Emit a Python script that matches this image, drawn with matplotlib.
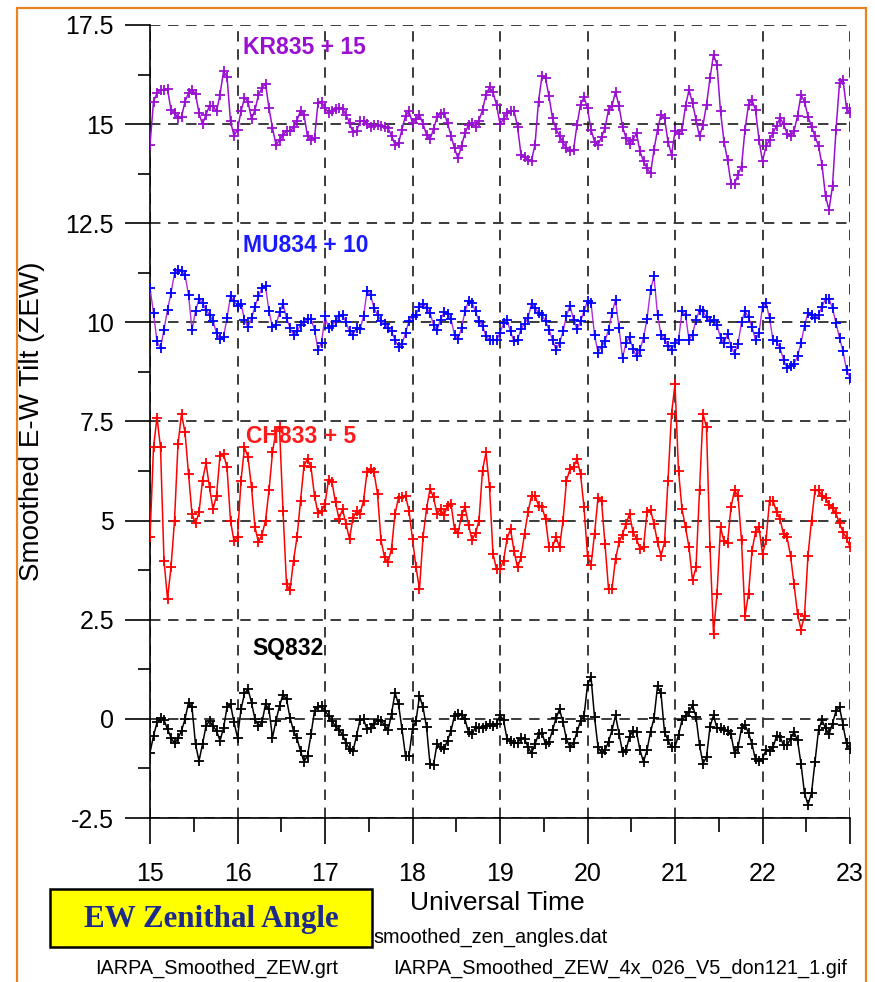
import matplotlib
matplotlib.use('Agg')
import matplotlib.pyplot as plt
import numpy as np
from matplotlib.patches import Rectangle
from matplotlib.ticker import MultipleLocator, FuncFormatter
from matplotlib import font_manager as fm

plt.rcParams['lines.scale_dashes'] = False
plt.rcParams['axes.unicode_minus'] = False

_avail = {f.name for f in fm.fontManager.ttflist}
if 'Liberation Sans Narrow' in _avail:
    NARROW = ['Liberation Sans Narrow', 'DejaVu Sans']
    NSCALE = 1.2
else:
    NARROW = ['Liberation Sans', 'DejaVu Sans']
    NSCALE = 1.0
SANS = ['Liberation Sans', 'DejaVu Sans']
SERIF = ['Liberation Serif', 'DejaVu Serif']

# ---------------- data ----------------
t_start, t_end, n_samples = 15.0, 23.0, 201
series_names = ['KR835 + 15', 'MU834 + 10', 'CH833 + 5', 'SQ832']

KR835 = [
    14.48, 15.57, 15.78, 15.87, 15.87, 15.88, 15.36, 15.29, 15.15, 15.18, 15.57, 15.78, 15.87, 15.76, 15.28, 15.0, 15.24, 15.46, 15.46, 15.32, 15.74, 16.33, 16.2, 15.07, 14.71,
    14.86, 15.32, 15.66, 15.57, 15.13, 15.36, 15.74, 15.91, 16.02, 15.4, 14.9, 14.48, 14.59, 14.73, 14.82, 14.82, 14.92, 15.09, 15.34, 15.24, 14.69, 14.61, 14.65, 15.53, 15.57,
    15.4, 15.29, 15.34, 15.39, 15.4, 15.38, 15.24, 15.03, 14.79, 14.82, 15.07, 15.07, 15.01, 14.94, 14.98, 14.98, 14.96, 14.94, 14.9, 14.71, 14.48, 14.52, 14.86, 15.21, 15.32,
    15.03, 15.13, 15.23, 15.01, 14.73, 14.62, 14.87, 15.18, 15.26, 15.28, 15.03, 14.71, 14.39, 14.14, 14.45, 14.77, 14.98, 15.03, 14.94, 15.09, 15.36, 15.74, 15.93, 15.8, 15.49,
    15.0, 15.13, 15.28, 15.32, 15.34, 14.94, 14.23, 14.16, 14.1, 14.08, 14.48, 15.57, 16.22, 16.16, 15.7, 15.15, 14.87, 14.71, 14.54, 14.39, 14.31, 14.35, 14.98, 15.49, 15.68,
    15.4, 14.86, 14.56, 14.48, 14.67, 14.9, 15.36, 15.46, 15.82, 15.45, 14.94, 14.65, 14.5, 14.61, 14.77, 14.31, 14.06, 13.89, 13.76, 14.35, 14.86, 15.24, 15.15, 14.56, 14.23,
    14.82, 14.76, 14.86, 15.45, 15.87, 15.53, 15.11, 14.69, 14.98, 15.49, 16.16, 16.75, 16.5, 15.32, 14.56, 14.1, 13.5, 13.5, 13.72, 13.93, 14.86, 15.49, 15.61, 15.36, 14.61,
    14.06, 14.44, 14.61, 14.77, 14.96, 15.15, 15.01, 14.76, 14.69, 14.82, 15.21, 15.74, 15.57, 15.19, 14.94, 14.69, 14.45, 13.97, 13.18, 12.84, 13.43, 14.86, 16.03, 16.12, 15.4,
    15.28]

MU834 = [
    10.87, 10.24, 9.52, 9.35, 9.82, 10.32, 10.74, 11.24, 11.33, 11.29, 11.2, 10.7, 9.82, 10.28, 10.59, 10.49, 10.32, 10.19, 10.03, 9.73, 9.58, 9.63, 10.11, 10.66, 10.53,
    10.42, 10.47, 10.07, 9.88, 10.11, 10.4, 10.66, 10.87, 10.91, 10.28, 9.88, 9.94, 10.25, 10.47, 10.11, 9.86, 9.69, 9.77, 9.94, 10.0, 10.08, 10.08, 9.82, 9.31, 9.48,
    10.15, 9.86, 9.92, 10.03, 10.15, 10.19, 10.0, 9.77, 9.69, 9.86, 9.83, 10.15, 10.78, 10.7, 10.36, 10.19, 10.04, 9.96, 9.87, 9.77, 9.56, 9.39, 9.46, 9.73, 10.04,
    10.13, 10.19, 10.4, 10.47, 10.36, 10.24, 9.94, 9.8, 10.07, 10.25, 10.22, 10.08, 9.69, 9.58, 9.86, 10.28, 10.53, 10.49, 10.28, 10.03, 9.92, 9.65, 9.56, 9.56, 9.55,
    9.73, 9.98, 10.05, 9.77, 9.52, 9.56, 9.83, 9.97, 10.11, 10.47, 10.36, 10.24, 10.18, 10.03, 9.82, 9.56, 9.31, 9.48, 9.77, 10.17, 10.42, 10.07, 9.83, 10.03, 10.28,
    10.53, 10.49, 9.69, 9.24, 9.39, 9.52, 9.82, 10.24, 10.57, 9.86, 9.1, 9.48, 9.63, 9.33, 9.14, 9.31, 9.61, 10.08, 10.82, 11.16, 10.19, 9.69, 9.58, 9.41, 9.31,
    9.48, 9.55, 10.28, 10.19, 9.56, 9.69, 10.07, 10.3, 10.28, 10.13, 10.03, 10.05, 9.94, 9.61, 9.48, 9.71, 9.39, 9.21, 9.46, 10.0, 10.28, 10.13, 9.88, 9.56, 9.73,
    10.4, 10.49, 10.11, 9.55, 9.52, 9.35, 9.06, 8.85, 8.89, 8.96, 9.14, 9.48, 9.92, 10.24, 10.19, 10.11, 10.19, 10.4, 10.59, 10.59, 10.36, 9.98, 9.61, 9.27, 8.81,
    8.6]

CH833 = [
    4.58, 6.85, 7.6, 6.85, 3.99, 3.03, 3.82, 5.0, 6.93, 7.69, 7.23, 6.18, 5.17, 4.93, 5.21, 6.01, 6.45, 5.84, 5.29, 5.63, 6.64, 6.68, 6.34, 5.0, 4.48,
    4.58, 6.01, 6.85, 6.6, 5.84, 4.83, 4.45, 4.65, 5.0, 5.76, 6.72, 7.27, 7.35, 5.25, 3.4, 3.24, 3.99, 4.58, 5.5, 6.39, 6.55, 6.34, 5.63, 5.18, 5.24,
    5.42, 6.03, 5.97, 5.46, 5.04, 5.29, 4.92, 4.54, 5.07, 5.24, 5.17, 5.5, 6.22, 6.3, 6.22, 5.67, 4.5, 4.08, 3.95, 4.29, 5.17, 5.57, 5.59, 5.63, 5.25,
    4.54, 3.82, 3.28, 4.58, 5.29, 5.8, 5.59, 5.17, 5.29, 5.13, 5.38, 5.42, 4.79, 4.68, 5.13, 5.34, 4.9, 4.51, 4.68, 5.0, 6.26, 6.72, 5.84, 4.16, 3.78,
    3.78, 3.99, 4.54, 4.79, 4.24, 3.82, 4.08, 4.66, 5.21, 5.63, 5.63, 5.38, 5.34, 5.04, 4.33, 4.34, 4.58, 4.33, 5.0, 6.01, 6.3, 6.36, 6.55, 6.18, 5.34,
    4.12, 3.87, 4.66, 5.57, 5.5, 4.41, 3.28, 3.28, 4.03, 4.45, 4.65, 4.92, 5.17, 4.71, 4.54, 4.29, 4.33, 5.21, 5.27, 4.92, 4.45, 4.12, 4.45, 6.01, 7.69,
    8.45, 6.26, 5.29, 4.83, 4.33, 3.49, 3.82, 5.76, 7.69, 7.35, 4.33, 2.15, 3.15, 4.83, 4.48, 4.43, 5.34, 5.76, 5.63, 4.5, 2.6, 3.15, 4.24, 4.71, 4.83,
    4.16, 4.5, 5.5, 5.5, 5.23, 5.04, 4.66, 4.58, 4.12, 3.4, 2.65, 2.25, 2.6, 4.12, 5.0, 5.76, 5.76, 5.63, 5.57, 5.4, 5.32, 5.18, 4.93, 4.71, 4.56,
    4.33]

SQ832 = [
    -0.85, -0.43, -0.09, 0.02, -0.03, -0.26, -0.47, -0.62, -0.49, -0.3, -0.01, 0.41, 0.29, -0.64, -1.06, -0.64, -0.18, -0.05, -0.18, -0.3, -0.55, -0.24, 0.29, 0.37, -0.09,
    -0.47, 0.24, 0.64, 0.75, 0.41, -0.01, -0.18, -0.09, 0.37, 0.24, -0.47, -0.05, 0.33, 0.61, 0.5, 0.03, -0.3, -0.49, -0.81, -1.08, -0.93, -0.39, 0.2, 0.3, 0.33,
    0.2, 0.08, -0.05, -0.19, -0.27, -0.4, -0.6, -0.76, -0.81, -0.43, -0.03, -0.01, -0.26, -0.24, -0.12, -0.03, -0.05, -0.15, -0.29, 0.12, 0.66, 0.37, -0.26, -0.93, -0.93,
    -0.26, -0.05, 0.58, 0.29, -0.2, -1.14, -1.16, -0.64, -0.71, -0.76, -0.55, -0.3, 0.08, 0.13, 0.1, -0.01, -0.34, -0.39, -0.2, -0.24, -0.22, -0.18, -0.13, -0.18, -0.12,
    0.09, -0.03, -0.5, -0.55, -0.62, -0.61, -0.48, -0.5, -0.71, -0.87, -0.64, -0.39, -0.35, -0.64, -0.58, -0.29, 0.01, 0.24, -0.08, -0.52, -0.71, -0.62, -0.33, -0.06, 0.07,
    0.85, 1.06, 0.05, -0.71, -0.86, -0.79, -0.58, -0.29, 0.09, -0.37, -0.83, -0.79, -0.45, -0.3, -0.33, -0.79, -1.08, -0.79, -0.33, 0.01, 0.82, 0.64, -0.33, -0.54, -0.72,
    -0.71, -0.41, -0.03, 0.07, 0.18, 0.34, 0.05, -0.66, -1.13, -0.96, -0.2, 0.09, -0.24, -0.24, -0.29, -0.3, -0.39, -0.87, -0.72, -0.24, -0.16, -0.35, -0.64, -1.02, -1.07,
    -1.0, -0.79, -0.81, -0.72, -0.44, -0.45, -0.66, -0.66, -0.51, -0.33, -0.54, -1.13, -1.88, -2.16, -1.87, -1.08, -0.29, -0.03, -0.23, -0.39, -0.12, 0.2, 0.3, -0.16, -0.62,
    -0.75]

y_ticks = [-2.5, 0, 2.5, 5, 7.5, 10, 12.5, 15, 17.5]
x_ticks = [15, 16, 17, 18, 19, 20, 21, 22, 23]

t = np.linspace(t_start, t_end, n_samples)

# ---------------- figure ----------------
fig = plt.figure(figsize=(8.75, 9.82), dpi=100)
W, H = 875.0, 982.0
ax = fig.add_axes([150 / W, 1 - 818 / H, 700 / W, (818 - 25) / H])
ax.set_xlim(15, 23)
ax.set_ylim(-2.5, 17.5)

ax.set_xticks(x_ticks)
ax.set_yticks(y_ticks)
ax.xaxis.set_minor_locator(MultipleLocator(0.5))
ax.yaxis.set_minor_locator(MultipleLocator(1.25))
ax.yaxis.set_major_formatter(FuncFormatter(lambda v, p: '%g' % v))

for s in ['top', 'right']:
    ax.spines[s].set_visible(False)
for s in ['left', 'bottom']:
    ax.spines[s].set_linewidth(1.2)
    ax.spines[s].set_color('black')

ax.tick_params(axis='y', which='major', length=18, width=1.2, pad=8, direction='out')
ax.tick_params(axis='y', which='minor', length=8.5, width=1.2, direction='out')
ax.tick_params(axis='x', which='major', length=19, width=1.2, pad=13, direction='out')
ax.tick_params(axis='x', which='minor', length=10, width=1.2, direction='out')
for lab in ax.get_xticklabels() + ax.get_yticklabels():
    lab.set_fontfamily(NARROW)
    lab.set_fontsize(18 * NSCALE)

ax.set_axisbelow(True)
ax.grid(True, which='major', color='#1a1a1a', linewidth=1.2, linestyle=(0, (7.5, 5.5)))

mk = dict(marker='+', markersize=7.5, markeredgewidth=1.3)
ax.plot(t, KR835, color='#9a10d0', lw=1.1, zorder=3, **mk)
ax.plot(t, MU834, color='#b02ed8', lw=1.0, markeredgecolor='#0000ff', zorder=3, **mk)
ax.plot(t, CH833, color='#ff0000', lw=1.1, zorder=3, **mk)
ax.plot(t, SQ832, color='#000000', lw=1.1, zorder=3, **mk)

lab_kw = dict(fontsize=16.5, fontweight='bold', family=SANS, ha='left', va='center', zorder=4)
ax.text(16.06, 16.94, series_names[0], color='#9a10d0', **lab_kw)
ax.text(16.06, 11.95, series_names[1], color='#1a1aff', **lab_kw)
ax.text(16.10, 7.11, series_names[2], color='#ff1a1a', **lab_kw)
ax.text(16.17, 1.78, series_names[3], color='#000000', **lab_kw)

ax.set_xlabel('Universal Time', fontsize=19 * NSCALE, family=NARROW)
ax.xaxis.set_label_coords((497 - 150) / 700, (818 - 891) / 793)
ax.set_ylabel('Smoothed E-W Tilt (ZEW)', fontsize=20, family=SANS)
ax.yaxis.set_label_coords((45 - 150) / 700, 0.5)

# orange frame
fig.add_artist(Rectangle((17 / W, -0.05), (866 - 17) / W, (1 - 8 / H) + 0.05,
                         transform=fig.transFigure, fill=False, ec='#e8831f', lw=1.6, clip_on=False))
# yellow title box
fig.add_artist(Rectangle((50 / W, 1 - 947 / H), 322 / W, 58 / H,
                         transform=fig.transFigure, fc='#ffff00', ec='black', lw=1.8, zorder=5))
fig.text(211 / W, 1 - 919 / H, 'EW Zenithal Angle', ha='center', va='center', fontsize=22.3,
         fontweight='bold', family=SERIF, color='#1c2a8c', zorder=6)

fs_small = 14.3 * NSCALE
fig.text(373 / W, 1 - 937 / H, 'smoothed_zen_angles.dat', ha='left', va='center', fontsize=fs_small, family=NARROW)
fig.text(95 / W, 1 - 968 / H, 'IARPA_Smoothed_ZEW.grt', ha='left', va='center', fontsize=fs_small, family=NARROW)
fig.text(393 / W, 1 - 968 / H, 'IARPA_Smoothed_ZEW_4x_026_V5_don121_1.gif', ha='left', va='center', fontsize=fs_small, family=NARROW)

fig.savefig('out.png', dpi=100)
